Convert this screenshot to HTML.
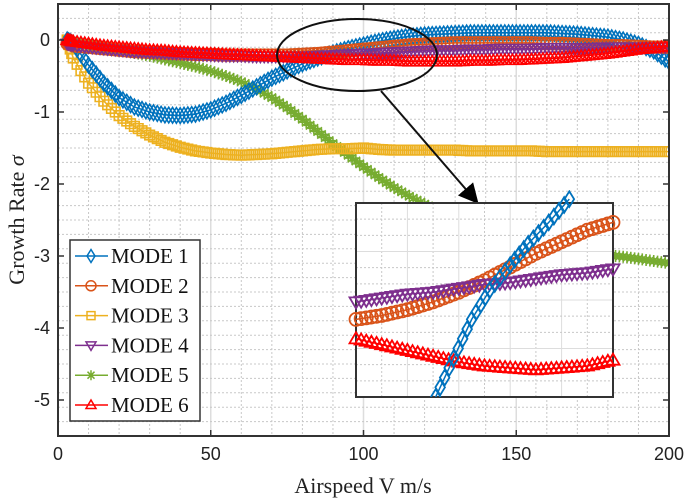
<!DOCTYPE html>
<html><head><meta charset="utf-8"><style>
html,body{margin:0;padding:0;background:#fff;}
svg{display:block;}
</style></head><body>
<svg id="chart" width="685" height="503" viewBox="0 0 685 503" xmlns="http://www.w3.org/2000/svg">
<defs>
<clipPath id="plotClip"><rect x="58" y="4" width="611" height="432"/></clipPath>
<clipPath id="insetClip"><rect x="340" y="190" width="290" height="207"/></clipPath>
<marker id="arrowHead" markerWidth="10" markerHeight="10" refX="8" refY="5" orient="auto"><path d="M0,0 L10,5 L0,10 z" fill="#000"/></marker>
</defs>
<g id="grid"></g>
<g id="series" clip-path="url(#plotClip)"></g>
<rect x="58" y="4" width="611" height="432" fill="none" stroke="#333" stroke-width="2"/>
<g id="ticks"></g>
<text x="363" y="493" text-anchor="middle" font-family="Liberation Serif, serif" font-size="22" fill="#222">Airspeed V m/s</text>
<text transform="translate(24,220) rotate(-90)" text-anchor="middle" font-family="Liberation Serif, serif" font-size="22" fill="#222">Growth Rate <tspan font-style="italic">σ</tspan></text>
<ellipse cx="357" cy="55" rx="80" ry="36" fill="none" stroke="#111" stroke-width="2"/>
<line x1="381" y1="91" x2="476" y2="201" stroke="#111" stroke-width="2" marker-end="url(#arrowHead)"/>
<g id="inset">
<rect x="356" y="203" width="257" height="194" fill="#fff"/>
<g id="insetGrid"></g>
<rect x="356" y="203" width="257" height="194" fill="none" stroke="#333" stroke-width="2"/>
<g id="insetSeries" clip-path="url(#insetClip)"></g>
</g>
<g id="legend"></g>
</svg>
<script>
const xTicks=[0,50,100,150,200];
const yTicks=[0,-1,-2,-3,-4,-5];
const seriesNames=["MODE 1","MODE 2","MODE 3","MODE 4","MODE 5","MODE 6"];
const xVals=[3,5,10,15,20,25,30,35,40,45,50,55,60,65,70,75,80,85,90,95,100,105,110,115,120,125,130,135,140,145,150,155,160,165,170,175,180,185,190,195,200];
const mode1=[0,-0.05,-0.35,-0.6,-0.8,-0.93,-1.0,-1.04,-1.05,-1.03,-0.97,-0.88,-0.77,-0.65,-0.53,-0.43,-0.33,-0.25,-0.18,-0.12,-0.07,-0.02,0.02,0.05,0.07,0.08,0.09,0.1,0.1,0.1,0.1,0.1,0.1,0.09,0.08,0.06,0.04,0.0,-0.06,-0.15,-0.3];
const mode2=[-0.05,-0.08,-0.1,-0.12,-0.14,-0.16,-0.17,-0.18,-0.19,-0.2,-0.2,-0.21,-0.21,-0.21,-0.21,-0.21,-0.2,-0.19,-0.17,-0.15,-0.13,-0.11,-0.09,-0.07,-0.06,-0.05,-0.04,-0.04,-0.04,-0.04,-0.04,-0.04,-0.05,-0.05,-0.06,-0.07,-0.08,-0.08,-0.09,-0.1,-0.1];
const mode3=[0,-0.25,-0.6,-0.85,-1.05,-1.2,-1.32,-1.42,-1.49,-1.54,-1.57,-1.59,-1.6,-1.59,-1.58,-1.56,-1.54,-1.52,-1.51,-1.51,-1.5,-1.52,-1.53,-1.53,-1.53,-1.53,-1.53,-1.54,-1.54,-1.54,-1.54,-1.54,-1.55,-1.55,-1.55,-1.55,-1.55,-1.55,-1.55,-1.55,-1.55];
const mode4=[-0.05,-0.07,-0.1,-0.12,-0.14,-0.16,-0.17,-0.18,-0.19,-0.2,-0.21,-0.22,-0.22,-0.23,-0.23,-0.23,-0.23,-0.22,-0.21,-0.2,-0.19,-0.18,-0.17,-0.16,-0.15,-0.14,-0.14,-0.13,-0.13,-0.12,-0.12,-0.12,-0.11,-0.11,-0.11,-0.11,-0.1,-0.1,-0.1,-0.1,-0.1];
const mode5=[0,-0.02,-0.06,-0.1,-0.14,-0.18,-0.22,-0.27,-0.32,-0.37,-0.43,-0.5,-0.58,-0.68,-0.8,-0.94,-1.1,-1.27,-1.44,-1.6,-1.76,-1.91,-2.05,-2.17,-2.28,-2.38,-2.47,-2.55,-2.62,-2.68,-2.74,-2.79,-2.84,-2.88,-2.92,-2.96,-2.99,-3.01,-3.04,-3.07,-3.1];
const mode6=[0,-0.02,-0.05,-0.08,-0.1,-0.12,-0.14,-0.15,-0.17,-0.18,-0.19,-0.2,-0.21,-0.22,-0.23,-0.24,-0.25,-0.26,-0.27,-0.28,-0.28,-0.29,-0.29,-0.3,-0.3,-0.3,-0.3,-0.29,-0.29,-0.28,-0.28,-0.27,-0.26,-0.25,-0.23,-0.21,-0.19,-0.16,-0.13,-0.11,-0.09];
// inset (normalized 0..1 in the zoom window)
const insetX1=[0.31,0.38,0.45,0.52,0.6,0.67,0.75,0.83];
const insetY1=[0,0.2,0.4,0.55,0.68,0.79,0.9,1.02];
const insetX=[0,0.1,0.2,0.3,0.4,0.5,0.6,0.7,0.8,0.9,1.0];
const insetY2=[0.4,0.42,0.45,0.49,0.54,0.6,0.67,0.74,0.8,0.86,0.9];
const insetY4=[0.49,0.51,0.53,0.54,0.56,0.58,0.59,0.61,0.63,0.64,0.66];
const insetY6=[0.3,0.27,0.24,0.21,0.18,0.16,0.15,0.14,0.15,0.16,0.19];

const colors=["#0072BD","#D95319","#EDB120","#7E2F8E","#77AC30","#FF0000"];
const markers=["diamond","circle","square","tri-down","star","tri-up"];
const NS="http://www.w3.org/2000/svg";
const X0=58,X1=669,Y0=4,Y1=436;
const sx=v=>X0+(v-0)/(200-0)*(X1-X0);
const sy=v=>Y0+(0.5-v)/(0.5+5.5)*(Y1-Y0);
function mk(tag,attrs,parent){const e=document.createElementNS(NS,tag);for(const k in attrs)e.setAttribute(k,attrs[k]);parent.appendChild(e);return e;}
function markerPath(type,x,y,r){
 switch(type){
 case "diamond":return `M${x},${y-r*1.3}L${x+r*0.8},${y}L${x},${y+r*1.3}L${x-r*0.8},${y}Z`;
 case "circle":return `M${x-r},${y}a${r},${r} 0 1,0 ${2*r},0a${r},${r} 0 1,0 ${-2*r},0`;
 case "square":return `M${x-r*0.8},${y-r*0.8}h${1.6*r}v${1.6*r}h${-1.6*r}Z`;
 case "tri-down":return `M${x-r},${y-r*0.7}L${x+r},${y-r*0.7}L${x},${y+r}Z`;
 case "tri-up":return `M${x-r},${y+r*0.7}L${x+r},${y+r*0.7}L${x},${y-r}Z`;
 case "star":return `M${x-r},${y}L${x+r},${y}M${x},${y-r}L${x},${y+r}M${x-r*0.7},${y-r*0.7}L${x+r*0.7},${y+r*0.7}M${x+r*0.7},${y-r*0.7}L${x-r*0.7},${y+r*0.7}`;
 }}
const grid=document.getElementById('grid');
for(let v=0;v<=200;v+=10){const x=sx(v);const major=v%50===0;
 const l=mk('line',{x1:x,y1:Y0,x2:x,y2:Y1,stroke:major?'#ddd':'#c8c8c8','stroke-width':major?1.5:1,'stroke-dasharray':major?'':'2,2'},grid);
 }
for(let i=0;i<=30;i++){const v=0.5-i*0.2;const y=sy(v);const major=Math.abs(v-Math.round(v))<1e-6;
 const l=mk('line',{x1:X0,y1:y,x2:X1,y2:y,stroke:major?'#ddd':'#c8c8c8','stroke-width':major?1.5:1,'stroke-dasharray':major?'':'2,2'},grid);
 }
const ticks=document.getElementById('ticks');
xTicks.forEach(v=>{const x=sx(v);
 mk('line',{x1:x,y1:Y1,x2:x,y2:Y1-6,stroke:'#333','stroke-width':1.5},ticks);
 mk('line',{x1:x,y1:Y0,x2:x,y2:Y0+6,stroke:'#333','stroke-width':1.5},ticks);
 const t=mk('text',{x:x,y:460,'text-anchor':'middle','font-family':'Liberation Sans, sans-serif','font-size':18,fill:'#222'},ticks);
 t.textContent=v;
 });
yTicks.forEach(v=>{const y=sy(v);
 mk('line',{x1:X0,y1:y,x2:X0+6,y2:y,stroke:'#333','stroke-width':1.5},ticks);
 mk('line',{x1:X1,y1:y,x2:X1-6,y2:y,stroke:'#333','stroke-width':1.5},ticks);
 const t=mk('text',{x:50,y:y+6,'text-anchor':'end','font-family':'Liberation Sans, sans-serif','font-size':18,fill:'#222'},ticks);
 t.textContent=v;
 });
function drawSeries(parent,xs,ys,fx,fy,ci,name,r,sub,sw){
 const g=mk('g',{},parent);
 
 let d='';xs.forEach((v,i)=>{d+=(i?'L':'M')+fx(v)+','+fy(ys[i]);});
 mk('path',{d:d,fill:'none',stroke:colors[ci],'stroke-width':1.5},g);
 let md='';
 for(let i=0;i<xs.length;i++){
  md+=markerPath(markers[ci],fx(xs[i]),fy(ys[i]),r);
  if(i<xs.length-1){for(let k=1;k<sub;k++){const t=k/sub;
   md+=markerPath(markers[ci],fx(xs[i])+(fx(xs[i+1])-fx(xs[i]))*t,fy(ys[i])+(fy(ys[i+1])-fy(ys[i]))*t,r);}}
 }
 mk('path',{d:md,fill:'none',stroke:colors[ci],'stroke-width':sw},g);
}
const sg=document.getElementById('series');
const all=[mode1,mode2,mode3,mode4,mode5,mode6];
[4,2,0,1,3,5].forEach(ci=>drawSeries(sg,xVals,all[ci],sx,sy,ci,'series-mode-'+(ci+1),6,4,1.6));
// inset
const IX0=356,IX1=613,IY0=203,IY1=397;
const ix=v=>IX0+v*(IX1-IX0), iy=v=>IY1-v*(IY1-IY0);
const ig=document.getElementById('insetGrid');
for(let i=1;i<10;i++){const x=IX0+i*(IX1-IX0)/10;mk('line',{x1:x,y1:IY0,x2:x,y2:IY1,stroke:i%2?'#c8c8c8':'#ddd','stroke-dasharray':i%2?'2,2':''},ig);}
for(let i=1;i<12;i++){const y=IY0+i*(IY1-IY0)/12;mk('line',{x1:IX0,y1:y,x2:IX1,y2:y,stroke:i%3?'#c8c8c8':'#ddd','stroke-dasharray':i%3?'2,2':''},ig);}
const isg=document.getElementById('insetSeries');
drawSeries(isg,insetX,insetY6,ix,iy,5,'inset-mode-6',6.5,5,1.8);
drawSeries(isg,insetX,insetY2,ix,iy,1,'inset-mode-2',6.5,5,1.8);
drawSeries(isg,insetX,insetY4,ix,iy,3,'inset-mode-4',6.5,5,1.8);
drawSeries(isg,insetX1,insetY1,ix,iy,0,'inset-mode-1',6,4,1.8);
// legend
const lg=document.getElementById('legend');
mk('rect',{x:70,y:240,width:130,height:181,fill:'#fff',stroke:'#333','stroke-width':1.5},lg);
seriesNames.forEach((n,i)=>{const y=256+i*29.8;
 const e=mk('g',{},lg);
 
 mk('line',{x1:75,y1:y,x2:108,y2:y,stroke:colors[i],'stroke-width':1.5},e);
 mk('path',{d:markerPath(markers[i],91,y,5),fill:'none',stroke:colors[i],'stroke-width':1.5},e);
 const t=mk('text',{x:111,y:y+7,'font-family':'Liberation Serif, serif','font-size':21,fill:'#111'},e);
 t.textContent=n;});
</script>
</body></html>
